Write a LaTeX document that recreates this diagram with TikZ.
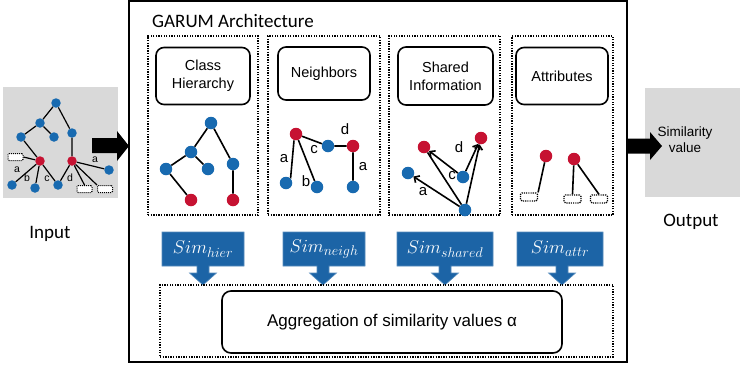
\documentclass[tikz,border=0pt]{standalone}
\usepackage{fix-cm}
\usepackage{fontspec}
\setmainfont{Liberation Sans}
\newfontfamily\calib{Carlito}
\DeclareMathSizes{18.5}{18.5}{14}{10}
\usetikzlibrary{arrows.meta}
\definecolor{nblue}{RGB}{24,106,176}
\definecolor{nred}{RGB}{198,18,50}
\definecolor{sblue}{RGB}{28,100,166}
\definecolor{gbox}{RGB}{217,217,217}
\tikzset{
  bn/.style={circle,fill=nblue,inner sep=0pt,minimum size=12.5pt},
  rn/.style={circle,fill=nred,inner sep=0pt,minimum size=12.5pt},
  sbn/.style={circle,fill=nblue,inner sep=0pt,minimum size=9.5pt},
  srn/.style={circle,fill=nred,inner sep=0pt,minimum size=9.5pt},
  edge/.style={line width=1.6pt},
  sedge/.style={line width=1.2pt},
  dotline/.style={line width=1.5pt,dash pattern=on 1.3pt off 1.3pt},
  panel/.style={draw,dotline,inner sep=0pt},
  rbox/.style={draw,line width=1.6pt,rounded corners=8pt,align=center,
    font=\fontsize{14.5}{18}\selectfont},
  lbl/.style={inner sep=0pt,font=\fontsize{15}{15}\selectfont},
  slbl/.style={inner sep=0pt,font=\fontsize{10.5}{11}\selectfont},
  attrbox/.style={draw,line width=1.2pt,dash pattern=on 1.1pt off 1.1pt,
    rounded corners=1.5pt,minimum width=17pt,minimum height=8pt,inner sep=0pt},
  sattr/.style={draw,line width=1pt,dash pattern=on 1pt off 1pt,
    rounded corners=1.2pt,minimum width=15pt,minimum height=7pt,inner sep=0pt},
  simtxt/.style={text=white,inner sep=0pt,font=\fontsize{18.5}{20}\selectfont},
  barb/.style={-{Straight Barb[length=4pt,width=8pt]}},
  bigtxt/.style={font=\calib\fontsize{19}{21}\selectfont,inner sep=0pt}
}
\newcommand{\simcall}[5]{%
  \fill[sblue,draw=sblue!75!white,line width=0.6pt] (#1,232) -- (#2,232) -- (#2,266) -- (#3+6,266) -- (#3+6,273)
   -- (#3+13.5,273) -- (#3,285) -- (#3-13.5,273) -- (#3-6,273) -- (#3-6,266) -- (#1,266) -- cycle;
  \node[simtxt] (#4) at ({(#1+#2)/2},249) {#5};}
\begin{document}
\begin{tikzpicture}[x=1pt,y=-1pt]
\useasboundingbox (0,0) rectangle (740,368);

% ---------- Input ----------
\fill[gbox] (3,87) rectangle (118,198);
\node[sbn] (t) at (56,103) {};
\node[sbn] (u) at (40,123) {};
\node[sbn] (v) at (21,137) {};
\node[sbn] (w) at (54,137) {};
\node[sbn] (x) at (72,133) {};
\node[srn] (rl) at (40,161) {};
\node[srn] (rr) at (72,161) {};
\node[sbn] (p1) at (12,185) {};
\node[sbn] (p2) at (35,188) {};
\node[sbn] (p3) at (58,185) {};
\node[sbn] (p4) at (109,170) {};
\node[sattr,fill=white] (ia) at (15.5,157) {};
\node[sattr,fill=white] (ib) at (84.5,189) {};
\node[sattr,fill=white] (ic) at (105,189) {};
\draw[sedge] (t) -- (u) (t) -- (x) (u) -- (v) (u) -- (w) (v) -- (rl) (x) -- (rr)
  (rl) -- (ia.east) (rl) -- (p1) (rl) -- (p2) (rl) -- (p3)
  (rr) -- (p3) (rr) -- (p4) (rr) -- (ib.north) (rr) -- (ic.north west);
\node[slbl] (ila) at (17,170) {a};
\node[slbl] (ilb) at (27,178) {b};
\node[slbl] (ilc) at (47,179) {c};
\node[slbl] (ild) at (70,178) {d};
\node[slbl] (ile) at (95,160) {a};
\node[bigtxt,anchor=base] (inp) at (50,238) {Input};

% input arrow
\fill[black] (92,138) -- (117,138) -- (117,131) -- (129,146) -- (117,161) -- (117,153) -- (92,153) -- cycle;

% ---------- Main box ----------
\node[draw,line width=2pt,minimum width=498pt,minimum height=361pt,inner sep=0pt] (main) at (377.5,181.5) {};
\node[bigtxt,anchor=base west] (title) at (152,27) {GARUM Architecture};

% panels
\node[panel,minimum width=110pt,minimum height=179pt] (pn1) at (203,125.5) {};
\node[panel,minimum width=112pt,minimum height=179pt] (pn2) at (324,125.5) {};
\node[panel,minimum width=111pt,minimum height=179pt] (pn3) at (444.5,125.5) {};
\node[panel,minimum width=101pt,minimum height=179pt] (pn4) at (562.5,125.5) {};

\node[rbox,minimum width=94pt,minimum height=57pt] (hb) at (203,76) {Class\\Hierarchy};
\node[rbox,minimum width=92pt,minimum height=53pt] (nb) at (324,73.5) {Neighbors};
\node[rbox,minimum width=95pt,minimum height=58pt] (sb) at (445.5,76) {Shared\\Information};
\node[rbox,minimum width=92pt,minimum height=57pt] (ab) at (562,76) {Attributes};

% graph 1: class hierarchy
\node[bn] (ha) at (211,123) {};
\node[bn] (hb1) at (191,152) {};
\node[bn] (hc) at (166,169) {};
\node[bn] (hd) at (208,169) {};
\node[bn] (he) at (233,164) {};
\node[rn] (hf) at (191,200) {};
\node[rn] (hg) at (233,200) {};
\draw[edge] (ha) -- (hb1) (ha) -- (he) (hb1) -- (hc) (hb1) -- (hd) (hc) -- (hf) (he) -- (hg);

% graph 2: neighbors
\node[rn] (n1) at (296,134) {};
\node[bn] (n2) at (328,146) {};
\node[rn] (n3) at (353,146) {};
\node[bn] (n4) at (286,183) {};
\node[bn] (n5) at (317,187) {};
\node[bn] (n6) at (353,187) {};
\draw[edge] (n1) -- (n2) (n2) -- (n3) (n1.south) ++(-2,0) coordinate (n1s) -- (n4.north east) (n1) -- (n5) (n3) -- (n6);
\node[lbl] (la1) at (284,159) {a};
\node[lbl] (lb1) at (306,181) {b};
\node[lbl] (lc1) at (314,150) {c};
\node[lbl] (ld1) at (345,129) {d};
\node[lbl] (la2) at (363,167) {a};

% graph 3: shared information
\node[rn] (sa) at (424,147) {};
\node[rn] (sr) at (481,138) {};
\node[bn] (sba) at (408,173) {};
\node[bn] (sbc) at (463,177) {};
\node[bn] (sbb) at (465,210) {};
\draw[edge,barb] (sbc) -- (sa);
\draw[edge,barb] (sbb) -- (sba);
\draw[edge] (sbb) -- (sa);
\draw[edge,barb] (sbc) -- (sr);
\draw[edge,barb] (sbb) -- (sr);
\node[lbl] (la3) at (423,192) {a};
\node[lbl] (lc3) at (452,176) {c};
\node[lbl] (ld3) at (459,147) {d};

% graph 4: attributes
\node[rn] (ar1) at (546,156) {};
\node[rn] (ar2) at (574,159) {};
\node[attrbox] (at1) at (529,197) {};
\node[attrbox] (at2) at (572.5,199) {};
\node[attrbox] (at3) at (599,199) {};
\draw[edge] (ar1) -- (at1.north east) (ar2) -- (at2.north) (ar2) -- (at3.north);

% ---------- similarity callouts ----------
\simcall{162}{244}{203}{s1}{$Sim_{hier}$}
\simcall{283}{365}{323}{s2}{$Sim_{neigh}$}
\simcall{397}{493}{445}{s3}{$Sim_{shared}$}
\simcall{517}{603}{562}{s4}{$Sim_{attr}$}

% aggregation
\node[panel,minimum width=453pt,minimum height=72pt] (agp) at (386.5,321) {};
\node[draw,line width=1.6pt,rounded corners=9pt,minimum width=340pt,minimum height=62pt,inner sep=0pt,
  font=\fontsize{17}{20}\selectfont] (ag) at (392,322) {Aggregation of similarity values α};

% ---------- Output ----------
\fill[gbox] (645,88) rectangle (740,197);
\fill[black] (627,138.5) -- (650,138.5) -- (650,132) -- (662,146) -- (650,160) -- (650,153.5) -- (627,153.5) -- cycle;
\node[align=center,inner sep=0pt,font=\fontsize{13.5}{16}\selectfont] (sv) at (685,140) {Similarity\\value};
\node[bigtxt,anchor=base] (outp) at (691,226) {Output};
\end{tikzpicture}
\end{document}
